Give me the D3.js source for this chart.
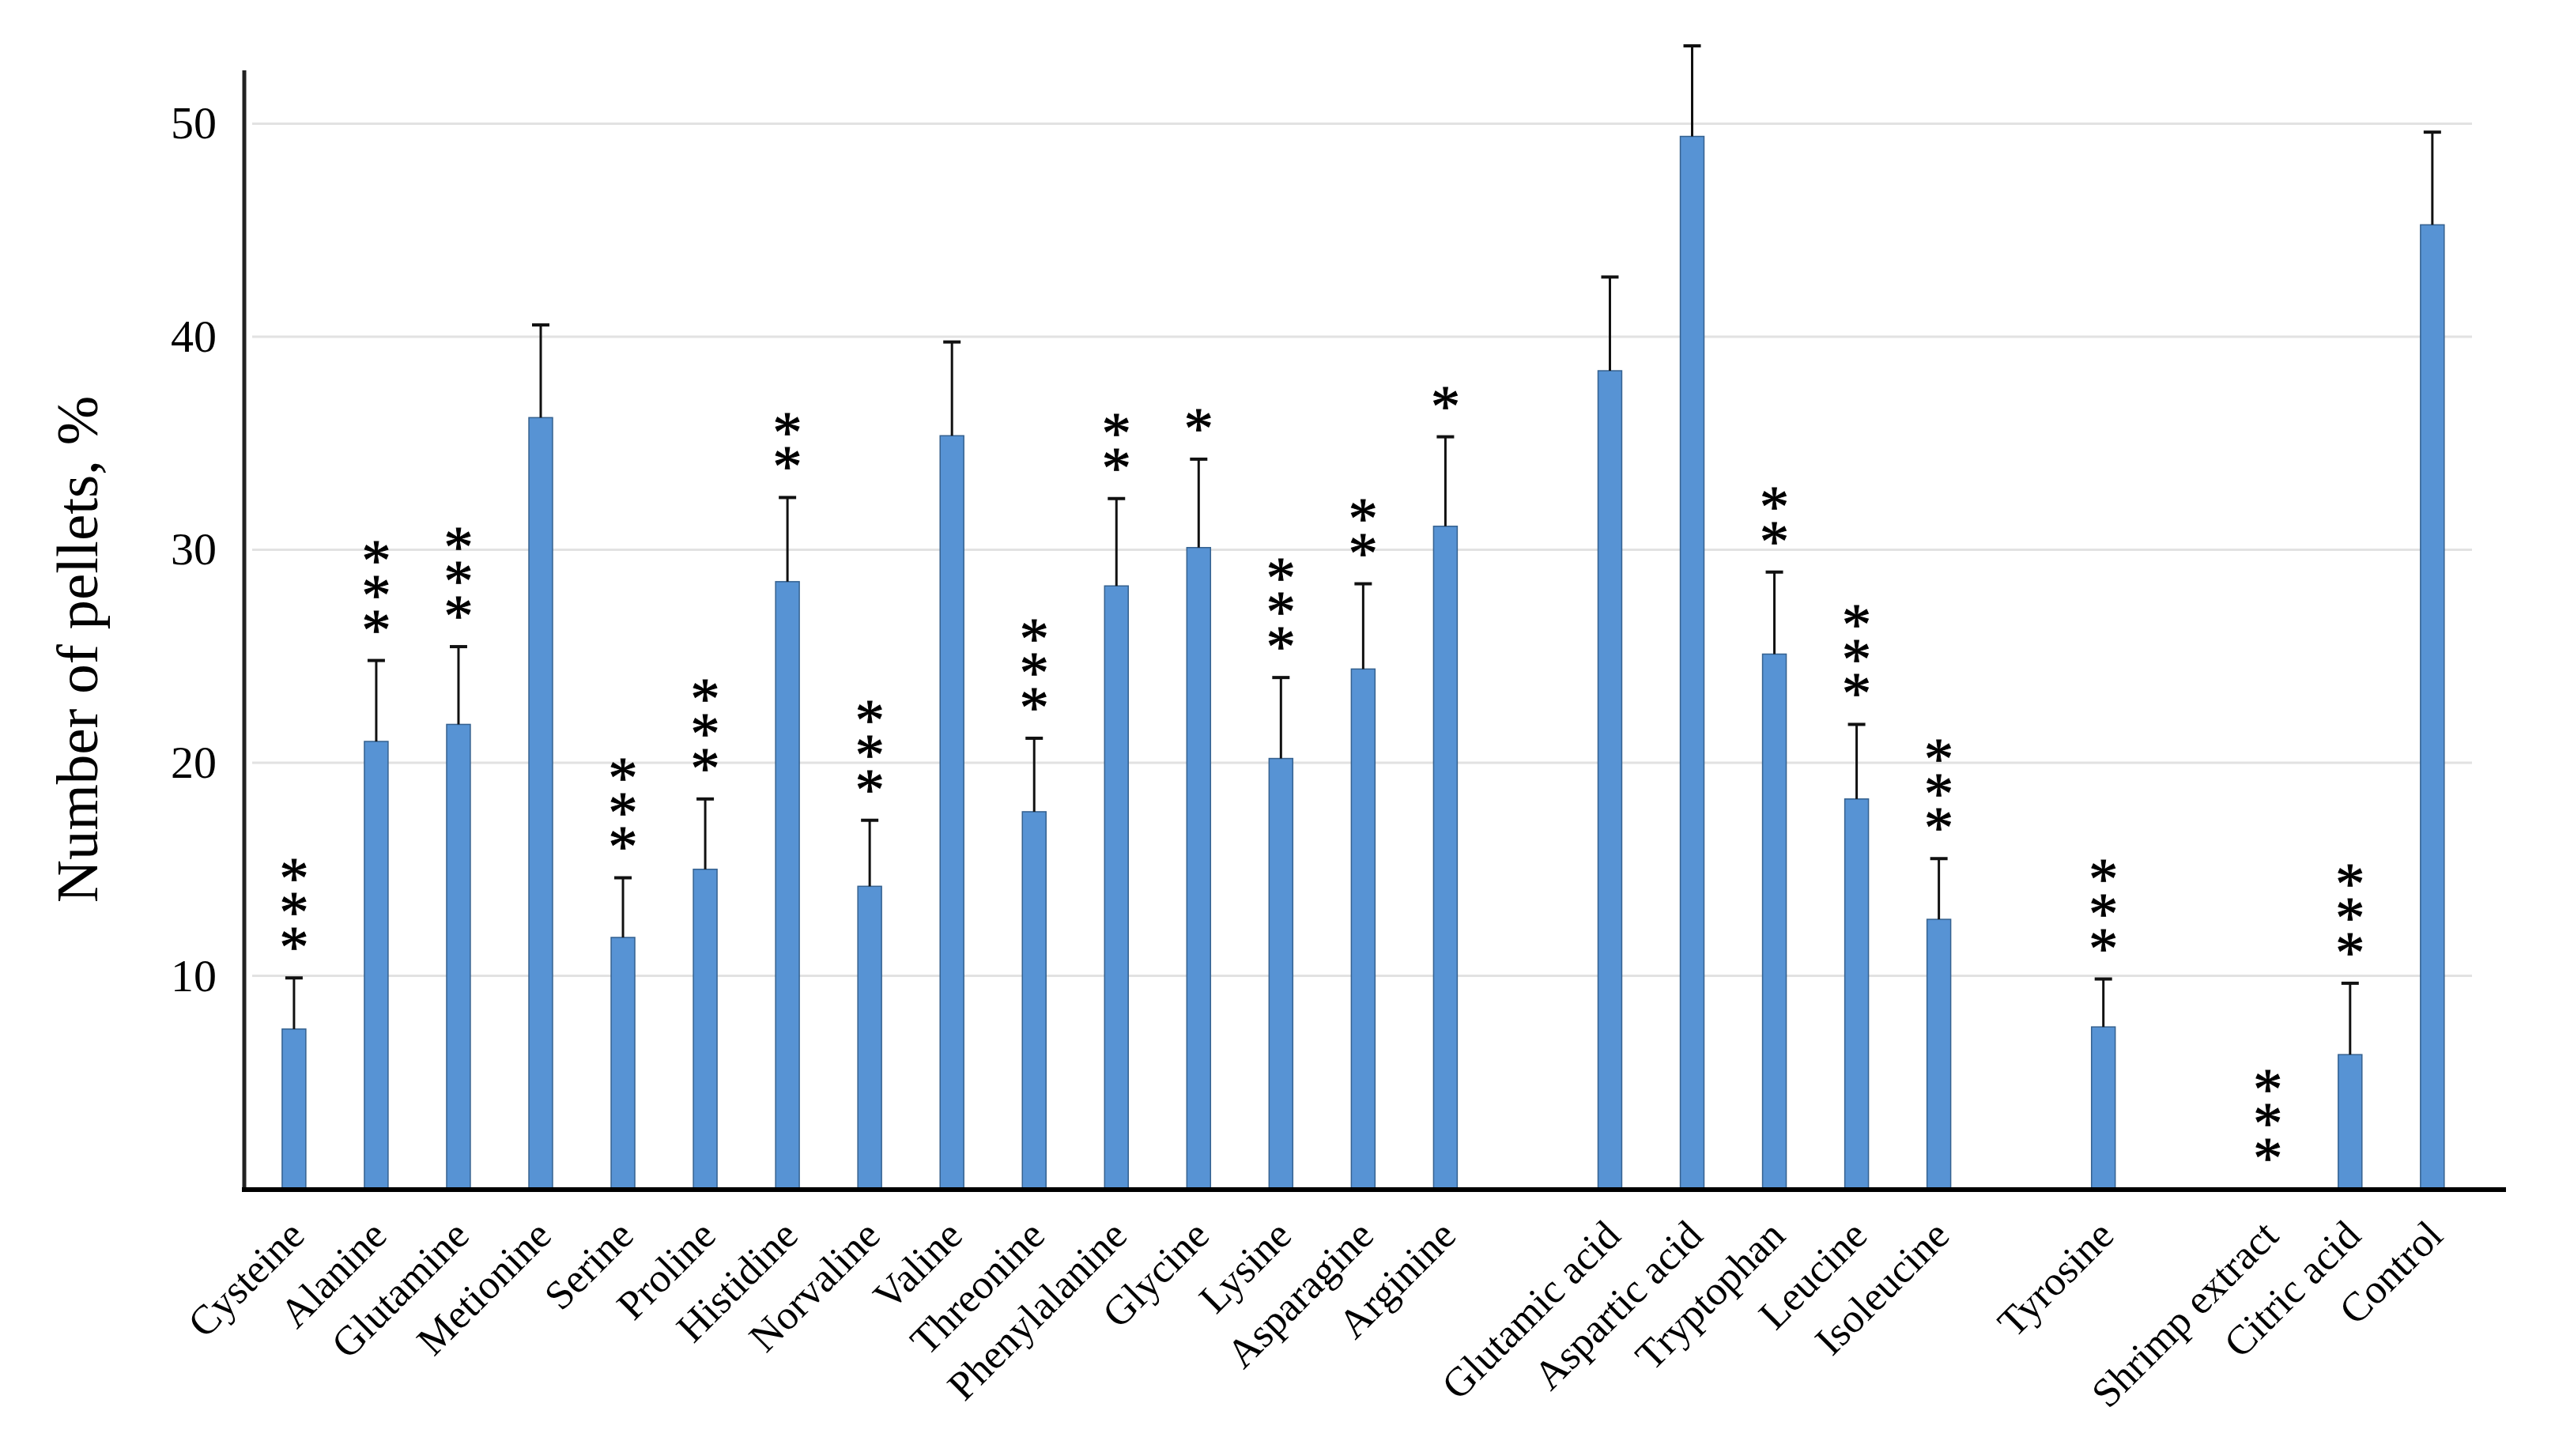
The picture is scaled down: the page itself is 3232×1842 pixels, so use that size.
<!DOCTYPE html>
<html>
<head>
<meta charset="utf-8">
<script src="https://cdn.jsdelivr.net/npm/d3@7"></script>
<style>
  html, body { margin: 0; padding: 0; background: #fff; }
  #chart { width: 3232px; height: 1842px; }
  text { font-family: "Liberation Serif", "Times New Roman", serif; fill: #000; }
</style>
</head>
<body>
<div id="chart"></div>
<script>
// Chart data ("" marks an empty slot on the x axis)
const categories = [
  "Cysteine", "Alanine", "Glutamine", "Metionine", "Serine", "Proline",
  "Histidine", "Norvaline", "Valine", "Threonine", "Phenylalanine", "Glycine",
  "Lysine", "Asparagine", "Arginine", "",
  "Glutamic acid", "Aspartic acid", "Tryptophan", "Leucine", "Isoleucine", "",
  "Tyrosine", "", "Shrimp extract", "Citric acid", "Control"
];
const means = [
  7.5, 21.0, 21.8, 36.2, 11.8, 15.0,
  28.5, 14.2, 35.35, 17.7, 28.3, 30.1,
  20.2, 24.4, 31.1, null,
  38.4, 49.4, 25.1, 18.3, 12.65, null,
  7.6, null, 0, 6.3, 45.25
];
const errors = [
  2.4, 3.8, 3.65, 4.35, 2.8, 3.3,
  3.95, 3.1, 4.4, 3.45, 4.1, 4.15,
  3.8, 4.0, 4.2, null,
  4.4, 4.25, 3.85, 3.5, 2.85, null,
  2.25, null, null, 3.35, 4.35
];
// number of significance asterisks above each bar
const stars = [
  3, 3, 3, 0, 3, 3,
  2, 3, 0, 3, 2, 1,
  3, 2, 1, 0,
  0, 0, 2, 3, 3, 0,
  3, 0, 3, 3, 0
];
const yTicks = [10, 20, 30, 40, 50];
const yTitle = "Number of pellets, %";

// === Layout ===
const width = 3232;
const height = 1842;
const plotLeft = 309;
const plotRight = 3170;
const plotTop = 89;
const plotBottom = 1504;

const svg = d3.select("#chart")
  .append("svg")
  .attr("width", width)
  .attr("height", height);

const x = d3.scaleBand()
  .domain(d3.range(categories.length))
  .range([plotLeft, plotRight])
  .paddingInner(0.712)
  .paddingOuter(0.606)
  .align(0.38);

const y = d3.scaleLinear()
  .domain([0, 52.5])
  .range([plotBottom, plotTop]);

// Gridlines
svg.append("g")
  .selectAll("line")
  .data(yTicks)
  .enter()
  .append("line")
  .attr("x1", plotLeft + 10)
  .attr("x2", 3127)
  .attr("y1", d => y(d))
  .attr("y2", d => y(d))
  .attr("stroke", "#e2e2e2")
  .attr("stroke-width", 3);

// Y axis (labels only, plus the axis line)
const yAxis = svg.append("g")
  .attr("transform", `translate(${plotLeft},0)`)
  .call(d3.axisLeft(y).tickValues(yTicks).tickSize(0).tickPadding(35));
yAxis.select(".domain").remove();
yAxis.selectAll("text")
  .style("font-family", "'Liberation Serif', 'Times New Roman', serif")
  .style("font-size", "58px");

svg.append("line")
  .attr("x1", plotLeft).attr("x2", plotLeft)
  .attr("y1", plotTop).attr("y2", plotBottom + 3)
  .attr("stroke", "#222")
  .attr("stroke-width", 5);

// Y title
svg.append("text")
  .attr("transform", `translate(123,${(504 + 1139) / 2}) rotate(-90)`)
  .attr("text-anchor", "middle")
  .style("font-size", "75px")
  .text(yTitle);

// Bars
const idx = d3.range(categories.length).filter(i => means[i] !== null);

svg.append("g")
  .selectAll("rect")
  .data(idx)
  .enter()
  .append("rect")
  .attr("x", i => x(i))
  .attr("y", i => y(means[i]))
  .attr("width", x.bandwidth())
  .attr("height", i => y(0) - y(means[i]))
  .attr("fill", "#5793d4")
  .attr("stroke", "#35618f")
  .attr("stroke-width", 1.5);

// Error bars (upper half only)
const errIdx = idx.filter(i => errors[i] !== null);
const cx = i => x(i) + x.bandwidth() / 2;

svg.append("g")
  .selectAll("line")
  .data(errIdx)
  .enter()
  .append("line")
  .attr("x1", cx)
  .attr("x2", cx)
  .attr("y1", i => y(means[i]))
  .attr("y2", i => y(means[i] + errors[i]))
  .attr("stroke", "#111")
  .attr("stroke-width", 3);

svg.append("g")
  .selectAll("line")
  .data(errIdx)
  .enter()
  .append("line")
  .attr("x1", i => cx(i) - 11)
  .attr("x2", i => cx(i) + 11)
  .attr("y1", i => y(means[i] + errors[i]))
  .attr("y2", i => y(means[i] + errors[i]))
  .attr("stroke", "#111")
  .attr("stroke-width", 4);

// Asterisks stacked above the error bar: one text per bar,
// each character placed with the x / y position lists
const starIdx = idx.filter(i => stars[i] > 0);
const starY = i => d3.range(stars[i])
  .map(k => y(means[i] + (errors[i] || 0)) - 50 - k * 43.7 + 36);

svg.append("g")
  .selectAll("text")
  .data(starIdx)
  .enter()
  .append("text")
  .attr("x", i => d3.range(stars[i]).map(() => cx(i)).join(" "))
  .attr("y", i => starY(i).join(" "))
  .attr("text-anchor", "middle")
  .attr("stroke", "#000")
  .attr("stroke-width", 1)
  .style("font-size", "74px")
  .text(i => "*".repeat(stars[i]));

// X axis with rotated labels
const xAxis = svg.append("g")
  .attr("transform", `translate(0,${plotBottom})`)
  .call(d3.axisBottom(x).tickSize(0).tickFormat(i => categories[i]));
xAxis.select(".domain").remove();
xAxis.selectAll("text")
  .attr("x", 0)
  .attr("y", 0)
  .attr("dy", null)
  .attr("text-anchor", "end")
  .attr("transform", "translate(16,62) rotate(-45)")
  .style("font-family", "'Liberation Serif', 'Times New Roman', serif")
  .style("font-size", "52px");

svg.append("line")
  .attr("x1", plotLeft - 3).attr("x2", plotRight)
  .attr("y1", plotBottom + 1).attr("y2", plotBottom + 1)
  .attr("stroke", "#000")
  .attr("stroke-width", 6);
</script>
</body>
</html>
